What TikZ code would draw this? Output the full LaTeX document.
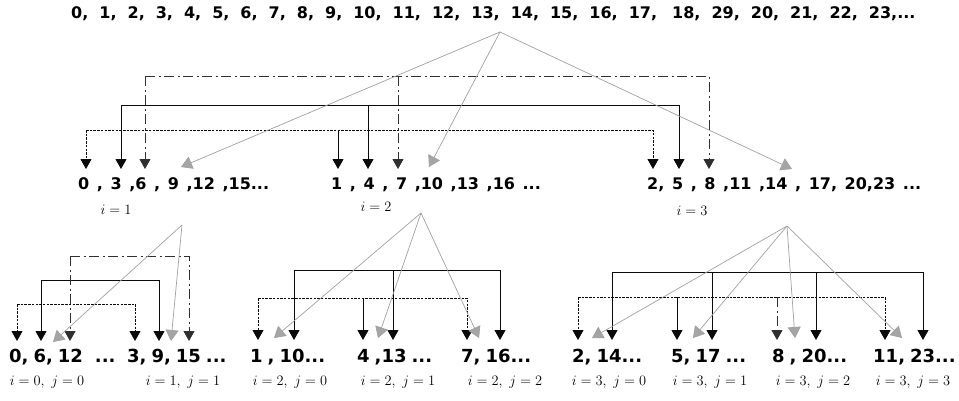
\documentclass[tikz,border=0pt]{standalone}
\usepackage{fontspec}
\setmainfont{DejaVu Sans}
\usetikzlibrary{arrows.meta}
\definecolor{gline}{RGB}{160,160,160}
\definecolor{ghead}{RGB}{165,165,165}
\definecolor{blk}{RGB}{10,10,10}
\newcommand\TopSp{\spaceskip=11pt\relax}
\newcommand\MidSp{\spaceskip=7.6pt\relax}
\newcommand\BotSp{\spaceskip=5pt\relax}
\begin{document}
\begin{tikzpicture}[x=1pt,y=-1pt,
  toptext/.style={inner sep=0pt,anchor=base west,font=\fontsize{16}{18}\selectfont\bfseries,execute at begin node=\TopSp},
  midtext/.style={inner sep=0pt,anchor=base west,font=\fontsize{16}{18}\selectfont\bfseries,execute at begin node=\MidSp},
  bottext/.style={inner sep=0pt,anchor=base west,font=\fontsize{18}{20}\selectfont\bfseries,execute at begin node=\BotSp},
  idx/.style={inner sep=0pt,anchor=base,font=\fontsize{14}{16}\selectfont},
  btip/.style={-{Triangle[width=11pt,length=10pt]}},
  solidline/.style={draw=blk,line width=1pt},
  dotline/.style={draw=blk,line width=0.9pt,dash pattern=on 2.5pt off 1.2pt},
  ddline/.style={draw=blk!85,line width=0.9pt,dash pattern=on 10pt off 3.5pt on 2pt off 3.5pt},
  garrow/.style={draw=gline,line width=0.7pt,-{Triangle[width=13pt,length=11pt,fill=ghead]}},
]
\useasboundingbox (0,0) rectangle (959,400);

% ---------------- texts ----------------
\node[toptext] (top) at (71,18.3) {0, 1, 2, 3, 4, 5, 6, 7, 8, 9, 10, 11, 12, 13, 14, 15, 16, 17,\hspace{4pt} 18, 29, 20, 21, 22, 23,...};

\node[midtext] (m1) at (78,189) {0 ,  3 ,6 , 9 ,12 ,15...};
\node[midtext] (m2) at (331,189) {1 , 4 , 7 ,10 ,13 ,16 ...};
\node[midtext] (m3) at (647,189) {2, 5 , 8 ,11 ,14 , 17, 20,23 ...};

\node[idx] (l1) at (116,214) {$i=1$};
\node[idx] (l2) at (376,211) {$i=2$};
\node[idx] (l3) at (692,215) {$i=3$};

\node[bottext] (x00) at (9,362) {0, 6, 12\hspace{12pt}...};
\node[bottext] (x11) at (127,362) {3, 9, 15 ...};
\node[bottext] (x20) at (250,362) {1 , 10...};
\node[bottext] (x21) at (357,362) {4 ,13 ...};
\node[bottext] (x22) at (461,362) {7, 16...};
\node[bottext] (x30) at (572,362) {2, 14...};
\node[bottext] (x31) at (671,362) {5, 17 ...};
\node[bottext] (x32) at (772,362) {8 , 20...};
\node[bottext] (x33) at (873,362) {11, 23...};

\node[idx] (y00) at (47,385) {$i=0,\ j=0$};
\node[idx] (y11) at (183,385) {$i=1,\ j=1$};
\node[idx] (y20) at (290,385) {$i=2,\ j=0$};
\node[idx] (y21) at (398,385) {$i=2,\ j=1$};
\node[idx] (y22) at (505,385) {$i=2,\ j=2$};
\node[idx] (y30) at (609,385) {$i=3,\ j=0$};
\node[idx] (y31) at (710,385) {$i=3,\ j=1$};
\node[idx] (y32) at (813,385) {$i=3,\ j=2$};
\node[idx] (y33) at (913,385) {$i=3,\ j=3$};

% ---------------- coordinates ----------------
\coordinate (apex0) at (500,32);
\coordinate (apex1) at (182,225);
\coordinate (apex2) at (421,213);
\coordinate (apex3) at (787,226);

% level 2 bus heights
\coordinate (hdot) at (0,130);
\coordinate (hsol) at (0,105);
\coordinate (hdd) at (0,76);
% level 2 tips
\coordinate (t0) at (86,169);  \coordinate (t3) at (121,169); \coordinate (t6) at (145,169);
\coordinate (t1) at (338,169); \coordinate (t4) at (368,169); \coordinate (t7) at (398,169);
\coordinate (t2) at (653,169); \coordinate (t5) at (679,169); \coordinate (t8) at (709,169);
\coordinate (g9) at (181,167); \coordinate (g10) at (429,167); \coordinate (g14) at (792,169);

% level 2 connectors
\draw[dotline,btip] (t0|-hdot) -| (t2);
\draw[dotline,btip] (t0|-hdot) -- (t0);
\draw[solidline,btip] (t1|-hdot) -- (t1);
\draw[solidline,btip] (t3|-hsol) -| (t5);
\draw[solidline,btip] (t3|-hsol) -- (t3);
\draw[solidline,btip] (t4|-hsol) -- (t4);
\draw[ddline,btip] (t6|-hdd) -| (t8);
\draw[ddline,btip] (t6|-hdd) -- (t6);
\draw[ddline,btip] (t7|-hdd) -- (t7);
\draw[garrow] (apex0) -- (g9);
\draw[garrow] (apex0) -- (g10);
\draw[garrow] (apex0) -- (g14);

% ---------------- group i=1 ----------------
\coordinate (b0) at (17,341);  \coordinate (b3) at (135,341);
\coordinate (b6) at (41,341);  \coordinate (b9) at (159,341);
\coordinate (b12) at (70,341); \coordinate (b15) at (189,341);
\coordinate (k1) at (0,304); \coordinate (k2) at (0,280); \coordinate (k3) at (0,256);
\draw[dotline,btip] (b0|-k1) -| (b3);
\draw[dotline,btip] (b0|-k1) -- (b0);
\draw[solidline,btip] (b6|-k2) -| (b9);
\draw[solidline,btip] (b6|-k2) -- (b6);
\draw[ddline,btip] (b12|-k3) -| (b15);
\draw[ddline,btip] (b12|-k3) -- (b12);
\coordinate (gb1) at (53,342); \coordinate (gb2) at (171,341);
\draw[garrow] (apex1) -- (gb1);
\draw[garrow] (apex1) -- (gb2);

% ---------------- group i=2 ----------------
\coordinate (c1) at (258,340);  \coordinate (c4) at (363,340); \coordinate (c7) at (467,340);
\coordinate (c10) at (294,340); \coordinate (c13) at (393,340); \coordinate (c16) at (500,340);
\coordinate (m1h) at (0,298); \coordinate (m2h) at (0,270);
\draw[dotline,btip] (c1|-m1h) -| (c7);
\draw[dotline,btip] (c1|-m1h) -- (c1);
\draw[solidline,btip] (c4|-m1h) -- (c4);
\draw[solidline,btip] (c10|-m2h) -| (c16);
\draw[solidline,btip] (c10|-m2h) -- (c10);
\draw[solidline,btip] (c13|-m2h) -- (c13);
\coordinate (gc1) at (274,338); \coordinate (gc2) at (378,338); \coordinate (gc3) at (479,338);
\draw[garrow] (apex2) -- (gc1);
\draw[garrow] (apex2) -- (gc2);
\draw[garrow] (apex2) -- (gc3);

% ---------------- group i=3 ----------------
\coordinate (e2) at (578,340);  \coordinate (e5) at (677,340);
\coordinate (e8) at (777,340);  \coordinate (e11) at (885,340);
\coordinate (e14) at (612,340); \coordinate (e17) at (712,340);
\coordinate (e20) at (816,340); \coordinate (e23) at (923,340);
\coordinate (n1h) at (0,297); \coordinate (n2h) at (0,272);
\draw[dotline,btip] (e2|-n1h) -| (e11);
\draw[dotline,btip] (e2|-n1h) -- (e2);
\draw[solidline,btip] (e5|-n1h) -- (e5);
\draw[ddline,btip] (e8|-n1h) -- (e8);
\draw[solidline,btip] (e14|-n2h) -| (e23);
\draw[solidline,btip] (e14|-n2h) -- (e14);
\draw[solidline,btip] (e17|-n2h) -- (e17);
\draw[solidline,btip] (e20|-n2h) -- (e20);
\coordinate (ge1) at (592,338); \coordinate (ge2) at (693,338);
\coordinate (ge3) at (795,338); \coordinate (ge4) at (902,338);
\draw[garrow] (apex3) -- (ge1);
\draw[garrow] (apex3) -- (ge2);
\draw[garrow] (apex3) -- (ge3);
\draw[garrow] (apex3) -- (ge4);
\end{tikzpicture}
\end{document}
